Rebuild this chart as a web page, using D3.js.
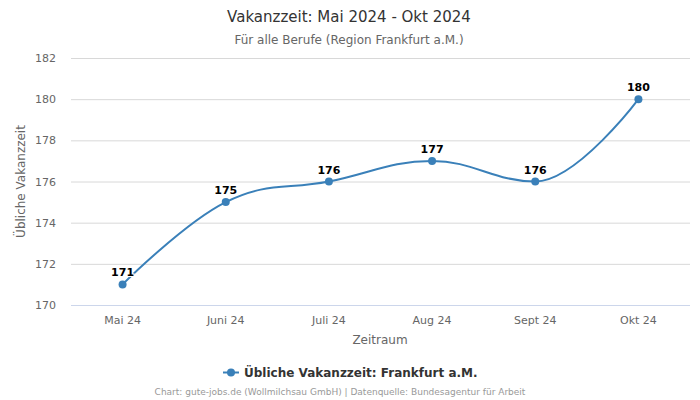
<!DOCTYPE html>
<html>
<head>
<meta charset="utf-8">
<script src="https://cdn.jsdelivr.net/npm/d3@7"></script>
<style>
body { margin: 0; background: #fff; }
text { font-family: "DejaVu Sans", sans-serif; }
</style>
</head>
<body>
<div id="frame"></div>
<script>
var months = ["Mai 24", "Juni 24", "Juli 24", "Aug 24", "Sept 24", "Okt 24"];
var values = [171, 175, 176, 177, 176, 180];
var yTicks = [170, 172, 174, 176, 178, 180, 182];

var width = 700, height = 400;
var margin = {left: 71, right: 10, top: 58, bottom: 95};
var lineColour = "#3a80b9";

var svg = d3.select('#frame').append('svg').attr('width', width).attr('height', height);

var x = d3.scaleBand().domain(months).range([margin.left, width - margin.right]);
var y = d3.scaleLinear().domain([170, 182]).range([height - margin.bottom, margin.top]);

// spline path in the style of the original charting tool
function splinePath(pts) {
  var smoothing = 1.5, denom = smoothing + 1;
  var conts = pts.map(function(p, i) {
    if (i == 0 || i == pts.length - 1) return {l: p, r: p};
    var last = pts[i - 1], next = pts[i + 1];
    var lx = (smoothing * p[0] + last[0]) / denom, ly = (smoothing * p[1] + last[1]) / denom;
    var rx = (smoothing * p[0] + next[0]) / denom, ry = (smoothing * p[1] + next[1]) / denom;
    if (rx != lx) {
      var corr = ((ry - ly) * (rx - p[0])) / (rx - lx) + p[1] - ry;
      ly += corr; ry += corr;
    }
    if (ly > last[1] && ly > p[1]) { ly = Math.max(last[1], p[1]); ry = 2 * p[1] - ly; }
    else if (ly < last[1] && ly < p[1]) { ly = Math.min(last[1], p[1]); ry = 2 * p[1] - ly; }
    if (ry > next[1] && ry > p[1]) { ry = Math.max(next[1], p[1]); ly = 2 * p[1] - ry; }
    else if (ry < next[1] && ry < p[1]) { ry = Math.min(next[1], p[1]); ly = 2 * p[1] - ry; }
    return {l: [lx, ly], r: [rx, ry]};
  });
  var path = d3.path();
  path.moveTo(pts[0][0], pts[0][1]);
  for (var i = 1; i < pts.length; i++) {
    var a = conts[i - 1].r, b = conts[i].l;
    path.bezierCurveTo(a[0], a[1], b[0], b[1], pts[i][0], pts[i][1]);
  }
  return path.toString();
}

// title
svg.append("text").attr("x", 349).attr("y", 22).attr("text-anchor", "middle")
  .attr("font-size", "15px").attr("fill", "#333").text("Vakanzzeit: Mai 2024 - Okt 2024");
svg.append("text").attr("x", 349).attr("y", 44).attr("text-anchor", "middle")
  .attr("font-size", "12px").attr("fill", "#666").text("Für alle Berufe (Region Frankfurt a.M.)");

// grid lines
svg.append("g").selectAll("line").data(yTicks).enter().append("line")
  .attr("x1", margin.left).attr("x2", width - margin.right)
  .attr("y1", function(d) { return y(d) + 0.5; }).attr("y2", function(d) { return y(d) + 0.5; })
  .attr("stroke", function(d) { return d == 170 ? "#ccd6eb" : "#d8d8d8"; })
  .attr("stroke-width", 1);

// y axis labels
svg.append("g").selectAll("text").data(yTicks).enter().append("text")
  .attr("x", 56).attr("y", function(d) { return y(d) + 4; })
  .attr("text-anchor", "end").attr("font-size", "11px").attr("fill", "#666")
  .text(function(d) { return d; });

// x axis labels
svg.append("g").selectAll("text").data(months).enter().append("text")
  .attr("x", function(d) { return x(d) + x.bandwidth() / 2; }).attr("y", 324)
  .attr("text-anchor", "middle").attr("font-size", "11px").attr("fill", "#666")
  .text(function(d) { return d; });

// axis titles
svg.append("text").attr("x", 380).attr("y", 344).attr("text-anchor", "middle")
  .attr("font-size", "12px").attr("fill", "#666").text("Zeitraum");
svg.append("text").attr("transform", "translate(25," + (y(176)) + ") rotate(-90)")
  .attr("text-anchor", "middle").attr("font-size", "12px").attr("fill", "#666")
  .text("Übliche Vakanzzeit");

// line
var points = months.map(function(m, i) { return [x(m) + x.bandwidth() / 2, y(values[i])]; });
svg.append("path").attr("d", splinePath(points))
  .attr("fill", "none").attr("stroke", lineColour).attr("stroke-width", 2);

svg.append("g").selectAll("circle").data(points).enter().append("circle")
  .attr("cx", function(d) { return d[0]; }).attr("cy", function(d) { return d[1]; })
  .attr("r", 4).attr("fill", lineColour);

// data labels
svg.append("g").selectAll("text").data(points).enter().append("text")
  .attr("x", function(d) { return d[0]; }).attr("y", function(d) { return d[1] - 8; })
  .attr("text-anchor", "middle").attr("font-size", "11px").attr("font-weight", "bold")
  .attr("fill", "#000").attr("stroke", "#fff").attr("stroke-width", 2).attr("paint-order", "stroke")
  .text(function(d, i) { return values[i]; });

// legend
svg.append("line").attr("x1", 223).attr("x2", 239).attr("y1", 372.5).attr("y2", 372.5)
  .attr("stroke", lineColour).attr("stroke-width", 2);
svg.append("circle").attr("cx", 231).attr("cy", 372.5).attr("r", 4).attr("fill", lineColour);
svg.append("text").attr("x", 244).attr("y", 377).attr("font-size", "12px").attr("font-weight", "bold")
  .attr("fill", "#333").text("Übliche Vakanzzeit: Frankfurt a.M.");

// credits
svg.append("text").attr("x", 340).attr("y", 395).attr("text-anchor", "middle")
  .attr("font-size", "9px").attr("fill", "#999")
  .text("Chart: gute-jobs.de (Wollmilchsau GmbH) | Datenquelle: Bundesagentur für Arbeit");
</script>
</body>
</html>
